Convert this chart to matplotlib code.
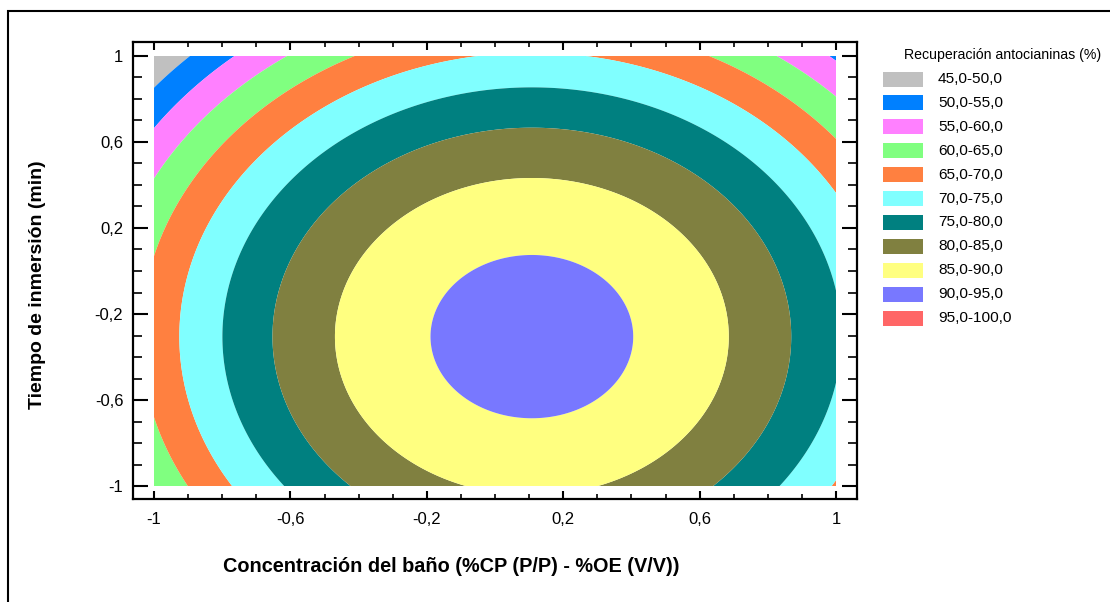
import matplotlib
matplotlib.use("Agg")
import matplotlib.pyplot as plt
import numpy as np
from matplotlib.patches import Rectangle
from matplotlib.ticker import MultipleLocator, FixedLocator, FuncFormatter

# Fitted second-order model: R = b0 + b1*x1 + b2*x2 + b11*x1^2 + b22*x2^2 + b12*x1*x2
b0 = 90.40
b1 = 4.41
b2 = -7.63
b11 = -20.4
b22 = -12.5
b12 = 0.0

levels = [45, 50, 55, 60, 65, 70, 75, 80, 85, 90, 95, 100]
colors = ["#C0C0C0", "#0080FF", "#FF80FF", "#80FF80", "#FF8040", "#80FFFF",
          "#008080", "#808040", "#FFFF80", "#7878FF", "#FF6666"]
major_ticks = [-1, -0.6, -0.2, 0.2, 0.6, 1]

x_label = "Concentración del baño (%CP (P/P) - %OE (V/V))"
y_label = "Tiempo de inmersión (min)"
legend_title = "Recuperación antocianinas (%)"

FONT = ["Liberation Sans", "DejaVu Sans"]
W, H = 1110, 602

fig = plt.figure(figsize=(W / 100, H / 100), dpi=100)

# outer frame (only left and top edges fall inside the canvas)
frame_top = (H - 11) / H
fig.add_artist(Rectangle((8 / W, -0.2), 1.3, 0.2 + frame_top, transform=fig.transFigure,
                         fill=False, edgecolor="black", linewidth=1.5))

ax = fig.add_axes([133 / W, (H - 499) / H, (857 - 133) / W, (499 - 42) / H])

x1 = np.linspace(-1, 1, 401)
x2 = np.linspace(-1, 1, 401)
X1, X2 = np.meshgrid(x1, x2)
Z = b0 + b1 * X1 + b2 * X2 + b11 * X1 ** 2 + b22 * X2 ** 2 + b12 * X1 * X2

ax.contourf(X1, X2, Z, levels=levels, colors=colors, antialiased=True)

ax.set_xlim(-1 - 21 / 341, 1 + 21 / 341)
ax.set_ylim(-1 - 13 / 215, 1 + 14 / 215)

fmt = FuncFormatter(lambda v, p: ("%g" % round(v, 2)).replace(".", ","))
for axis in (ax.xaxis, ax.yaxis):
    axis.set_major_locator(FixedLocator(major_ticks))
    axis.set_minor_locator(MultipleLocator(0.1))
    axis.set_major_formatter(fmt)

ax.tick_params(axis="x", which="major", direction="in", length=6, width=1.5,
               top=True, bottom=True, pad=9, labelsize=12)
ax.tick_params(axis="x", which="minor", direction="in", length=3.7, width=1.2,
               top=True, bottom=True)
ax.tick_params(axis="y", which="major", direction="in", length=10.5, width=1.5,
               left=True, right=True, pad=7, labelsize=12)
ax.tick_params(axis="y", which="minor", direction="in", length=6.5, width=1.2,
               left=True, right=True)
for lab in ax.get_xticklabels() + ax.get_yticklabels():
    lab.set_family(FONT)
for s in ax.spines.values():
    s.set_linewidth(1.6)

fig.text(451 / W, 1 - 567 / H, x_label, ha="center", va="center",
         fontsize=14.3, fontweight="bold", family=FONT)
fig.text(38 / W, 1 - 285 / H, y_label, ha="center", va="center", rotation=90,
         fontsize=14.0, fontweight="bold", family=FONT)

# legend
fig.text(904 / W, 1 - 55 / H, legend_title, ha="left", va="center",
         fontsize=10.2, family=FONT)
for i, c in enumerate(colors):
    yc = 79 + i * 23.9
    fig.add_artist(Rectangle((883 / W, 1 - (yc + 7.5) / H), 40 / W, 15 / H,
                             transform=fig.transFigure, facecolor=c, edgecolor="none"))
    lab = ("%.1f-%.1f" % (levels[i], levels[i + 1])).replace(".", ",")
    fig.text(938 / W, 1 - yc / H, lab, ha="left", va="center",
             fontsize=11.1, family=FONT)

fig.savefig("out.png", dpi=100)
